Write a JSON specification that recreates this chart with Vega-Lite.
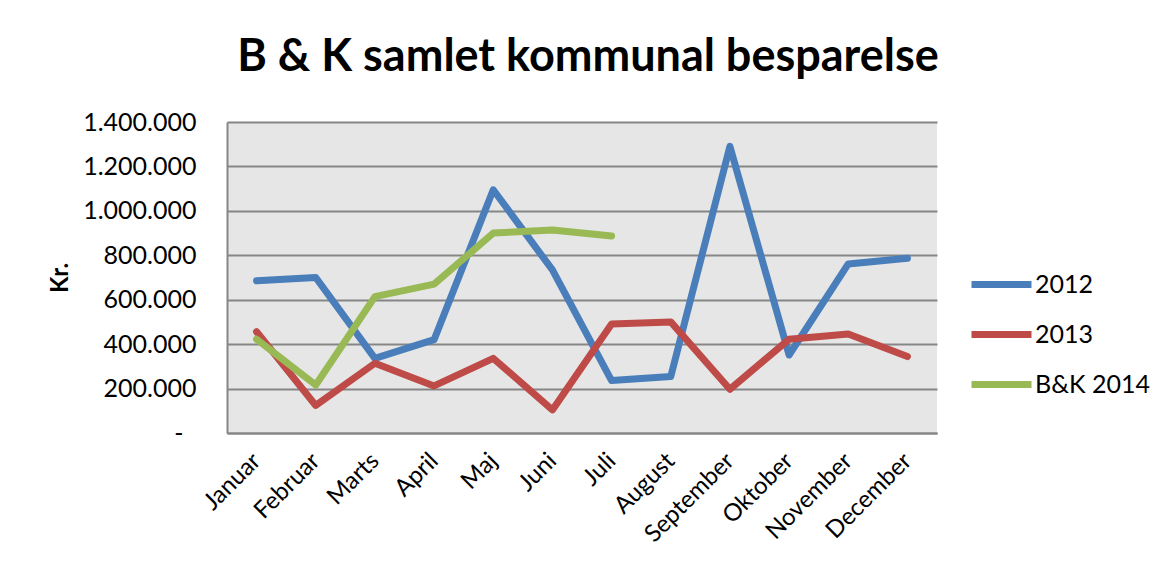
{
  "$schema": "https://vega.github.io/schema/vega-lite/v6.json",
  "width": 710,
  "height": 311,
  "autosize": "none",
  "padding": {"left": 227, "top": 122, "right": 218, "bottom": 134},
  "background": "white",
  "title": {
    "text": "B & K samlet kommunal besparelse",
    "font": "Lato",
    "fontSize": 45,
    "fontWeight": "bold",
    "color": "black",
    "anchor": "middle",
    "offset": 30,
    "dx": 6
  },
  "data": {
    "values": [
      {"month": "Januar", "series": "2012", "value": 685000},
      {"month": "Februar", "series": "2012", "value": 700000},
      {"month": "Marts", "series": "2012", "value": 336000},
      {"month": "April", "series": "2012", "value": 420000},
      {"month": "Maj", "series": "2012", "value": 1095000},
      {"month": "Juni", "series": "2012", "value": 734000},
      {"month": "Juli", "series": "2012", "value": 236000},
      {"month": "August", "series": "2012", "value": 254000},
      {"month": "September", "series": "2012", "value": 1290000},
      {"month": "Oktober", "series": "2012", "value": 351000},
      {"month": "November", "series": "2012", "value": 761000},
      {"month": "December", "series": "2012", "value": 787000},
      {"month": "Januar", "series": "2013", "value": 456000},
      {"month": "Februar", "series": "2013", "value": 124000},
      {"month": "Marts", "series": "2013", "value": 314000},
      {"month": "April", "series": "2013", "value": 212000},
      {"month": "Maj", "series": "2013", "value": 336000},
      {"month": "Juni", "series": "2013", "value": 104000},
      {"month": "Juli", "series": "2013", "value": 491000},
      {"month": "August", "series": "2013", "value": 500000},
      {"month": "September", "series": "2013", "value": 197000},
      {"month": "Oktober", "series": "2013", "value": 422000},
      {"month": "November", "series": "2013", "value": 446000},
      {"month": "December", "series": "2013", "value": 344000},
      {"month": "Januar", "series": "B&K 2014", "value": 422000},
      {"month": "Februar", "series": "B&K 2014", "value": 216000},
      {"month": "Marts", "series": "B&K 2014", "value": 614000},
      {"month": "April", "series": "B&K 2014", "value": 670000},
      {"month": "Maj", "series": "B&K 2014", "value": 900000},
      {"month": "Juni", "series": "B&K 2014", "value": 914000},
      {"month": "Juli", "series": "B&K 2014", "value": 887000}
    ]
  },
  "mark": {"type": "line", "strokeWidth": 7, "strokeCap": "round", "strokeJoin": "round"},
  "encoding": {
    "x": {
      "field": "month",
      "type": "ordinal",
      "sort": ["Januar", "Februar", "Marts", "April", "Maj", "Juni", "Juli", "August", "September", "Oktober", "November", "December"],
      "scale": {"type": "point", "padding": 0.5},
      "axis": {
        "title": null,
        "labelAngle": -45,
        "labelAlign": "right",
        "labelBaseline": "middle",
        "labelFont": "Lato",
        "labelFontSize": 24,
        "labelColor": "black",
        "labelPadding": 24,
        "ticks": false,
        "grid": false,
        "domainColor": "#868686",
        "domainWidth": 2
      }
    },
    "y": {
      "field": "value",
      "type": "quantitative",
      "scale": {"domain": [0, 1400000], "nice": false},
      "axis": {
        "values": [0, 200000, 400000, 600000, 800000, 1000000, 1200000, 1400000],
        "title": "Kr.",
        "titleFont": "Lato",
        "titleFontSize": 24,
        "titleFontWeight": "bold",
        "titleColor": "black",
        "titlePadding": 10,
        "labelFont": "Lato",
        "labelFontSize": 25,
        "labelColor": "black",
        "labelPadding": {"condition": {"test": "datum.value == 0", "value": 44}, "value": 31},
        "labelExpr": "datum.value == 0 ? '-' : replace(format(datum.value, ','), regexp(',', 'g'), '.')",
        "ticks": false,
        "domainColor": "#868686",
        "domainWidth": 2,
        "gridColor": "#868686",
        "gridWidth": 2
      }
    },
    "color": {
      "field": "series",
      "type": "nominal",
      "scale": {"domain": ["2012", "2013", "B&K 2014"], "range": ["#4a7ebb", "#be4b48", "#98b954"]},
      "legend": {
        "title": null,
        "orient": "none",
        "legendX": 741,
        "legendY": 129,
        "symbolType": "stroke",
        "symbolSize": 3600,
        "symbolStrokeWidth": 7,
        "labelFont": "Lato",
        "labelFontSize": 25,
        "labelColor": "black",
        "labelOffset": 0,
        "rowPadding": 2
      }
    }
  },
  "config": {
    "view": {"stroke": null, "fill": "#e6e6e6"}
  }
}
